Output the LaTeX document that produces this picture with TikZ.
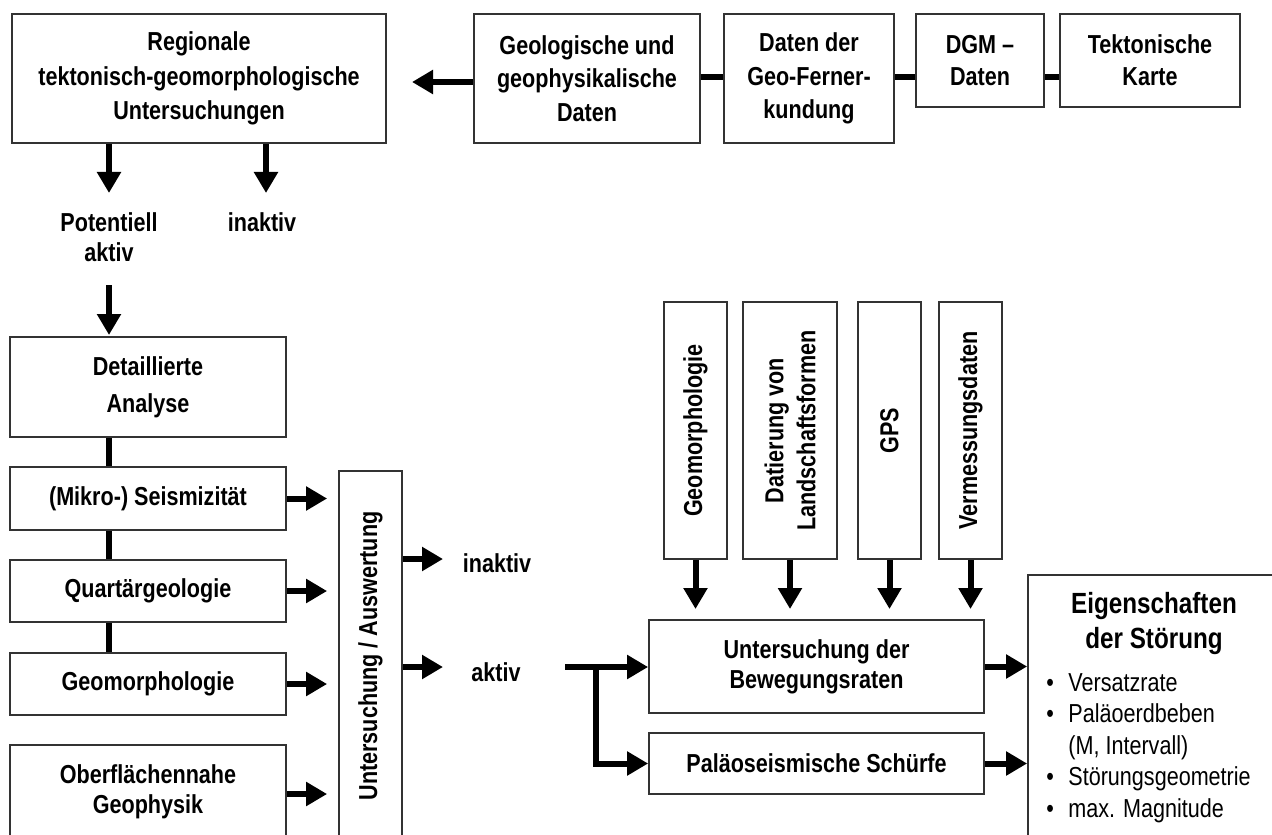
\documentclass[tikz,border=0pt]{standalone}
\usepackage{fontspec}
\setmainfont{Liberation Sans}[FakeStretch=0.83]
\usetikzlibrary{arrows.meta}
\newcommand\bfl[1]{\fontsize{13}{#1}\selectfont\bfseries}
\begin{document}
\begin{tikzpicture}[x=0.5pt,y=-0.5pt,
  box/.style={draw=black!80, line width=0.9pt, inner sep=0pt, align=center, font=\bfl{17}},
  bx/.style n args={4}{minimum width={(#3-#1)*0.5pt}, minimum height={(#4-#2)*0.5pt},
      at={({(#1+#3)/2},{(#2+#4)/2})}},
  lsp/.style={font=\bfl{#1}},
  lbl/.style={inner sep=0pt, align=center, font=\bfl{15}},
  arr/.style={line width=3pt, -{Triangle[length=10.5pt,width=11.5pt]}},
  conn/.style={line width=3pt}]
\useasboundingbox (0,0) rectangle (1272,834);
\clip (0,0) rectangle (1272,834);

% ---- top row
\node[box, lsp=17.25, bx={12}{14}{386}{143}] (reg) {Regionale\\tektonisch-geomorphologische\\Untersuchungen};
\node[box, lsp=16.75, bx={474}{14}{700}{143}] (geo) {Geologische und\\geophysikalische\\Daten};
\node[box, lsp=16.75, bx={724}{14}{894}{143}] (fern) {Daten der\\Geo-Ferner-\\kundung};
\node[box, lsp=16, bx={916}{14}{1044}{107}] (dgm) {DGM --\\Daten};
\node[box, lsp=16, bx={1060}{14}{1240}{107}] (tek) {Tektonische\\Karte};

\coordinate (cy) at (0,77);
\draw[conn] (geo.east |- cy) -- (fern.west |- cy);
\draw[conn] (fern.east |- cy) -- (dgm.west |- cy);
\draw[conn] (dgm.east |- cy) -- (tek.west |- cy);
\coordinate (tg) at (412,82);
\draw[arr] (geo.west |- tg) -- (tg);

% ---- below regional box
\coordinate (t1) at (109,193);
\coordinate (t2) at (266,193);
\draw[arr] (reg.south -| t1) -- (t1);
\draw[arr] (reg.south -| t2) -- (t2);
\node[lbl] (pot) at (109,237) {Potentiell\\aktiv};
\node[lbl] (ina1) at (262,222) {inaktiv};
\coordinate (s3) at (109,285);
\coordinate (t3) at (109,335);
\draw[arr] (pot.south |- s3) -- (t3);

% ---- left column
\node[box, lsp=18.5, bx={10}{337}{286}{437}] (det) {Detaillierte\\Analyse};
\node[box, bx={10}{467}{286}{530}] (mik) {(Mikro-) Seismizität};
\node[box, bx={10}{560}{286}{622}] (qua) {Quartärgeologie};
\node[box, bx={10}{653}{286}{715}] (gml) {Geomorphologie};
\node[box, lsp=15, bx={10}{745}{286}{839}] (obe) {Oberflächennahe\\Geophysik};

\coordinate (cx) at (109,0);
\draw[conn] (det.south -| cx) -- (mik.north -| cx);
\draw[conn] (mik.south -| cx) -- (qua.north -| cx);
\draw[conn] (qua.south -| cx) -- (gml.north -| cx);

\node[box, rotate=90, minimum width=185pt, minimum height=31.5pt] (uaw) at (370.5,656) {Untersuchung / Auswertung};

\draw[arr, shorten >=5.5pt] (mik.east) -- (mik.east -| uaw.north);
\draw[arr, shorten >=5.5pt] (qua.east) -- (qua.east -| uaw.north);
\draw[arr, shorten >=5.5pt] (gml.east) -- (gml.east -| uaw.north);
\coordinate (ob) at (0,794);
\draw[arr, shorten >=5.5pt] (obe.east |- ob) -- (uaw.north |- ob);

\coordinate (ti1) at (443,559);
\coordinate (ti2) at (443,667);
\draw[arr] (uaw.south |- ti1) -- (ti1);
\draw[arr] (uaw.south |- ti2) -- (ti2);
\node[lbl] (ina2) at (497,563) {inaktiv};
\node[lbl] (akt) at (496,672) {aktiv};

% ---- right part
\node[box, rotate=90, minimum width=128.5pt, minimum height=31.5pt] (vg) at (695.5,430.5) {Geomorphologie};
\node[box, lsp=16, rotate=90, minimum width=128.5pt, minimum height=47pt] (vd) at (790,430.5) {Datierung von\\Landschaftsformen};
\node[box, rotate=90, minimum width=128.5pt, minimum height=31.5pt] (vgps) at (889.5,430.5) {GPS};
\node[box, rotate=90, minimum width=128.5pt, minimum height=31.5pt] (vv) at (970.5,430.5) {Vermessungsdaten};

\node[box, lsp=15, bx={649}{620}{984}{713}] (ubw) {Untersuchung der\\Bewegungsraten};
\node[box, bx={649}{733}{984}{794}] (pal) {Paläoseismische Schürfe};

\coordinate (tv) at (0,609);
\draw[arr] (vg.west) -- (vg.west |- tv);
\draw[arr] (vd.west) -- (vd.west |- tv);
\draw[arr] (vgps.west) -- (vgps.west |- tv);
\draw[arr] (vv.west) -- (vv.west |- tv);

\coordinate (ls) at (565,667);
\coordinate (br) at (596,667);
\draw[arr] (ls) -- (ubw.west |- ls);
\draw[arr] (br) |- (pal.west);

\node[box, bx={1028}{575}{1300}{850}] (eig) {};
\draw[arr] (ubw.east) -- (ubw.east -| eig.west);
\draw[arr] (pal.east) -- (pal.east -| eig.west);

\node[inner sep=0pt, align=center, font={\fontsize{14.6}{17.5}\selectfont\bfseries}] (eigt) at (1154,624) {Eigenschaften\\der Störung};
\node[inner sep=0pt, anchor=north west, align=left, font={\fontsize{13}{15.75}\selectfont}] (eigl) at (1046,673)
 {\makebox[11pt][l]{•}Versatzrate\\
  \makebox[11pt][l]{•}Paläoerdbeben\\
  \hspace*{11pt}(M, Intervall)\\
  \makebox[11pt][l]{•}Störungsgeometrie\\
  \makebox[11pt][l]{•}max. Magnitude};
\end{tikzpicture}
\end{document}
